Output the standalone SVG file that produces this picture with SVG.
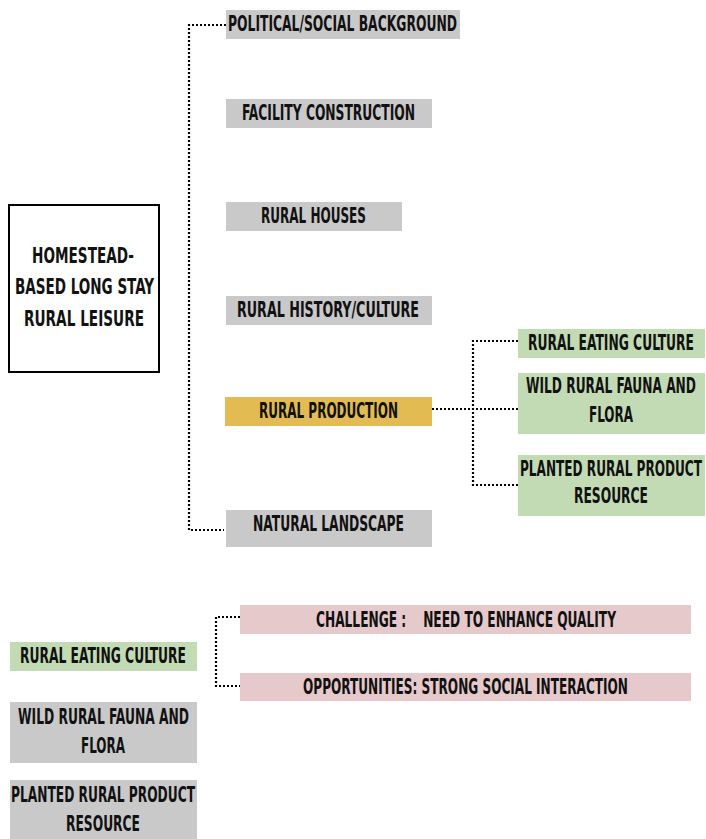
<svg xmlns="http://www.w3.org/2000/svg" width="706" height="839" viewBox="0 0 706 839">
<style>
text{font-family:"Liberation Sans Narrow","DejaVu Sans Condensed","Liberation Sans",sans-serif;font-weight:bold;font-size:22px;fill:#111}
.g{fill:#c9c9c9}.gr{fill:#c2dbb4}.au{fill:#e3bb53}.pk{fill:#e6c9ca}
.dot{fill:none;stroke:#000;stroke-width:2.2;stroke-dasharray:2 2}
</style>
<rect width="706" height="839" fill="#fff"/>
<g id="connectors">
<path class="dot" d="M226 25H189V530H224"/>
<path class="dot" d="M432 409H518M518 341H473V485H518"/>
<path class="dot" d="M240 617H216V686H240"/>
</g>
<g id="main"><rect x="9" y="205" width="150" height="167" fill="#fff" stroke="#000" stroke-width="2"/>
<text x="32" y="263" textLength="102" lengthAdjust="spacingAndGlyphs">HOMESTEAD-</text>
<text x="15" y="294" textLength="139" lengthAdjust="spacingAndGlyphs">BASED LONG STAY</text>
<text x="24" y="326" textLength="120" lengthAdjust="spacingAndGlyphs">RURAL LEISURE</text></g>
<g id="political"><rect class="g" x="226" y="10" width="234" height="29"/><text x="228" y="31" textLength="229" lengthAdjust="spacingAndGlyphs">POLITICAL/SOCIAL BACKGROUND</text></g>
<g id="facility"><rect class="g" x="226" y="99" width="206" height="29"/><text x="242" y="120" textLength="173" lengthAdjust="spacingAndGlyphs">FACILITY CONSTRUCTION</text></g>
<g id="houses"><rect class="g" x="226" y="202" width="176" height="29"/><text x="261" y="223" textLength="105" lengthAdjust="spacingAndGlyphs">RURAL HOUSES</text></g>
<g id="history"><rect class="g" x="226" y="296" width="206" height="29"/><text x="237" y="317" textLength="182" lengthAdjust="spacingAndGlyphs">RURAL HISTORY/CULTURE</text></g>
<g id="production"><rect class="au" x="225" y="397" width="207" height="29"/><text x="259" y="418" textLength="139" lengthAdjust="spacingAndGlyphs">RURAL PRODUCTION</text></g>
<g id="landscape"><rect class="g" x="226" y="510" width="206" height="37"/><text x="253" y="531" textLength="151" lengthAdjust="spacingAndGlyphs">NATURAL LANDSCAPE</text></g>
<g id="eating"><rect class="gr" x="518" y="329" width="187" height="29"/><text x="528" y="350" textLength="166" lengthAdjust="spacingAndGlyphs">RURAL EATING CULTURE</text></g>
<g id="fauna"><rect class="gr" x="518" y="373" width="187" height="61"/><text x="526" y="393" textLength="170" lengthAdjust="spacingAndGlyphs">WILD RURAL FAUNA AND</text><text x="589" y="422" textLength="44" lengthAdjust="spacingAndGlyphs">FLORA</text></g>
<g id="planted"><rect class="gr" x="518" y="455" width="187" height="61"/><text x="520" y="476" textLength="182" lengthAdjust="spacingAndGlyphs">PLANTED RURAL PRODUCT</text><text x="574" y="503" textLength="74" lengthAdjust="spacingAndGlyphs">RESOURCE</text></g>
<g id="challenge"><rect class="pk" x="240" y="605" width="451" height="29"/><text x="316" y="627" textLength="300" lengthAdjust="spacingAndGlyphs" xml:space="preserve">CHALLENGE :    NEED TO ENHANCE QUALITY</text></g>
<g id="opportunities"><rect class="pk" x="240" y="673" width="451" height="28"/><text x="303" y="694" textLength="325" lengthAdjust="spacingAndGlyphs">OPPORTUNITIES: STRONG SOCIAL INTERACTION</text></g>
<g id="eating2"><rect class="gr" x="10" y="642" width="187" height="29"/><text x="20" y="663" textLength="166" lengthAdjust="spacingAndGlyphs">RURAL EATING CULTURE</text></g>
<g id="fauna2"><rect class="g" x="10" y="702" width="187" height="61"/><text x="18" y="724" textLength="171" lengthAdjust="spacingAndGlyphs">WILD RURAL FAUNA AND</text><text x="81" y="753" textLength="44" lengthAdjust="spacingAndGlyphs">FLORA</text></g>
<g id="planted2"><rect class="g" x="10" y="780" width="187" height="59"/><text x="11" y="802" textLength="184" lengthAdjust="spacingAndGlyphs">PLANTED RURAL PRODUCT</text><text x="66" y="831" textLength="74" lengthAdjust="spacingAndGlyphs">RESOURCE</text></g>
</svg>
